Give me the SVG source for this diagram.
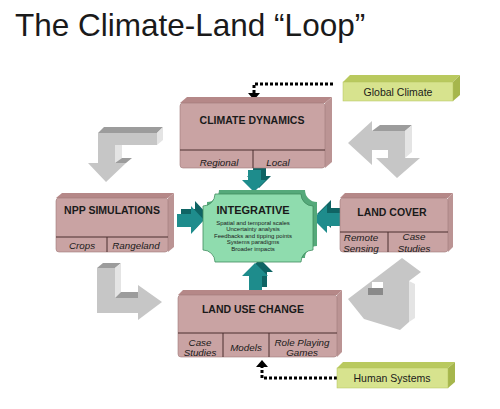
<svg xmlns="http://www.w3.org/2000/svg" width="500" height="409" viewBox="0 0 500 409">
<defs>
<style>
.t{font-family:"Liberation Sans",Arial,sans-serif;fill:#1a1a1a}
.h{font-weight:bold;font-size:10.5px;text-anchor:middle}
.i{font-style:italic;font-size:9.8px;text-anchor:middle}
.front{fill:#c9a3a3;stroke:#a07878;stroke-width:0.6}
.top{fill:#b58888}
.side{fill:#bb9494}
.div{stroke:#4a2e2e;stroke-width:1;fill:none}
.gf{fill:#c6c6c6}
.gt{fill:#9c9c9c}
.gs{fill:#e4e4e4}
.tf{fill:#1e8c8c}
.tb{fill:#0f6464}
.yf{fill:#d7e38e;stroke:#b3c25c;stroke-width:0.5}
.yt{fill:#b9c95e}
.ys{fill:#a6b64c}
.dot{fill:none;stroke:#000;stroke-width:3;stroke-dasharray:3 2}
</style>
</defs>
<rect width="500" height="409" fill="#fff"/>
<text class="t" x="15" y="36" font-size="31.5">The Climate-Land “Loop”</text>

<g id="connectors">
<g id="arrow-tl">
<polygon class="gt" points="98,133 104,127 163,127 157,133"/>
<polygon class="gs" points="157,133 163,127 163,140 157,145"/>
<polygon class="gs" points="115,145 122,140 122,158 115,163"/>
<polygon class="gt" points="115,163 122,158 132,158 126,163"/>
<polygon class="gf" points="98,133 157,133 157,145 115,145 115,163 126,163 106,182 88,163 98,163"/>
</g>
<g id="arrow-bl">
<polygon class="gt" points="97,268 103,263 121,263 115,268"/>
<polygon class="gs" points="115,268 121,263 121,292 115,298"/>
<polygon class="gt" points="115,298 121,292 138,292 138,298"/>
<polygon class="gf" points="97,268 115,268 115,298 138,298 138,285 162,302 138,320 138,313 97,313"/>
</g>
<g id="arrow-tr">
<polygon class="gt" points="372,131 380,125 412,125 405,131"/>
<polygon class="gs" points="405,131 412,125 412,152 405,158"/>
<polygon class="gf" points="348,143 372,121 372,131 405,131 405,158 420,158 397,178 376,158 388,158 388,150 372,150 372,165"/>
</g>
<g id="arrow-br">
<polygon class="gs" points="409,281 415,284 415,318 409,322"/>
<polygon class="gf" points="402,258 421,272 409,281 409,322 400,330 364,319 348,299"/>
<rect x="372" y="282" width="11" height="6" fill="#fff"/>
<rect x="368" y="288" width="15" height="7" fill="#8a8a8a"/>
</g>

<g id="teal-top">
<polygon class="tb" points="253,166 266,166 266,176 271,176 259,188 247,176 253,176"/>
<polygon class="tf" points="248,170 261,170 261,180 266,180 254,192 242,180 248,180"/>
</g>
<g id="teal-left">
<polygon class="tb" points="181,209 195,209 195,201 208,215 195,229 195,222 181,222"/>
<polygon class="tf" points="177,214 191,214 191,206 204,220 191,234 191,227 177,227"/>
</g>
<g id="teal-right">
<polygon class="tb" points="344,208 331,208 331,200 317,214 331,228 331,221 344,221"/>
<polygon class="tf" points="340,213 327,213 327,205 313,219 327,233 327,226 340,226"/>
</g>
<g id="teal-bottom">
<polygon class="tb" points="254,287 267,287 267,272 273,272 260,259 247,272 254,272"/>
<polygon class="tf" points="249,291 262,291 262,276 268,276 255,263 242,276 249,276"/>
</g>

<path class="dot" d="M333,84 H254 V93"/>
<polygon points="248,93 260,93 254,100" fill="#000"/>
<path class="dot" d="M337,378 H262 V367"/>
<polygon points="256,367 268,367 262,360" fill="#000"/>
</g>

<g id="climate-dynamics">
<polygon class="top" points="180,103 187,97 332,97 325,103"/>
<polygon class="side" points="325,103 332,97 332,162 325,168"/>
<rect class="front" x="180" y="103" width="145" height="65" rx="3"/>
<path class="div" d="M180,150 H325 M253,150 V168"/>
<text class="t h" x="252" y="124">CLIMATE DYNAMICS</text>
<text class="t i" x="219" y="165.5">Regional</text>
<text class="t i" x="278" y="165.5">Local</text>
</g>

<g id="global-climate">
<polygon class="yt" points="343,82 350,75 460,75 453,82"/>
<polygon class="ys" points="453,82 460,75 460,95 453,101"/>
<rect class="yf" x="343" y="82" width="110" height="19"/>
<text class="t" x="398" y="95.5" font-size="10.5" text-anchor="middle">Global Climate</text>
</g>

<g id="npp-simulations">
<polygon class="top" points="56,198 62,193 174,193 168,198"/>
<polygon class="side" points="168,198 174,193 174,247 168,252"/>
<rect class="front" x="56" y="198" width="112" height="54" rx="3"/>
<path class="div" d="M56,237 H168 M107,237 V252"/>
<text class="t h" x="112" y="214">NPP SIMULATIONS</text>
<text class="t i" x="82" y="248.5">Crops</text>
<text class="t i" x="136" y="248.5">Rangeland</text>
</g>

<g id="land-cover">
<polygon class="top" points="340,198 345,193 453,193 448,198"/>
<polygon class="side" points="448,198 453,193 453,247 448,252"/>
<rect class="front" x="340" y="198" width="108" height="54" rx="3"/>
<path class="div" d="M340,232 H448 M388,232 V252"/>
<text class="t h" x="392" y="216" font-size="11">LAND COVER</text>
<text class="t i" x="361" y="241">Remote</text>
<text class="t i" x="361" y="251.5">Sensing</text>
<text class="t i" x="414" y="240">Case</text>
<text class="t i" x="414" y="251.5">Studies</text>
</g>

<g id="land-use-change">
<polygon class="top" points="178,295 183,290 342,290 337,295"/>
<polygon class="side" points="337,295 342,290 342,352 337,357"/>
<rect class="front" x="178" y="295" width="159" height="62" rx="3"/>
<path class="div" d="M178,333 H337 M223,333 V357 M269,333 V357"/>
<text class="t h" x="253" y="313" font-size="11.3">LAND USE CHANGE</text>
<text class="t i" x="200" y="345.5">Case</text>
<text class="t i" x="200" y="356">Studies</text>
<text class="t i" x="246" y="350.5">Models</text>
<text class="t i" x="302" y="345.5">Role Playing</text>
<text class="t i" x="302" y="356">Games</text>
</g>

<g id="human-systems">
<polygon class="yt" points="337,368 343,362 455,362 448,368"/>
<polygon class="ys" points="448,368 455,362 455,382 448,388"/>
<rect class="yf" x="337" y="368" width="111" height="20"/>
<text class="t" x="392" y="382" font-size="10.5" text-anchor="middle">Human Systems</text>
</g>

<g id="integrative">
<path fill="#55a97a" d="M219,190 H305 A12,12 0 0 0 317,202 V246 A12,12 0 0 0 305,258 H219 A12,12 0 0 0 207,246 V202 A12,12 0 0 0 219,190 Z"/>
<path fill="#8fdcae" stroke="#3f8c5e" stroke-width="0.8" d="M215,194 H301 A12,12 0 0 0 313,206 V250 A12,12 0 0 0 301,262 H215 A12,12 0 0 0 203,250 V206 A12,12 0 0 0 215,194 Z"/>
<text class="t" x="253" y="214" font-size="11" font-weight="bold" text-anchor="middle">INTEGRATIVE</text>
<g font-size="6" text-anchor="middle">
<text class="t" x="253" y="224.5">Spatial and temporal scales</text>
<text class="t" x="253" y="231">Uncertainty analysis</text>
<text class="t" x="253" y="237.5">Feedbacks and tipping points</text>
<text class="t" x="253" y="244">Systems paradigms</text>
<text class="t" x="253" y="250.5">Broader impacts</text>
</g>
</g>
</svg>
